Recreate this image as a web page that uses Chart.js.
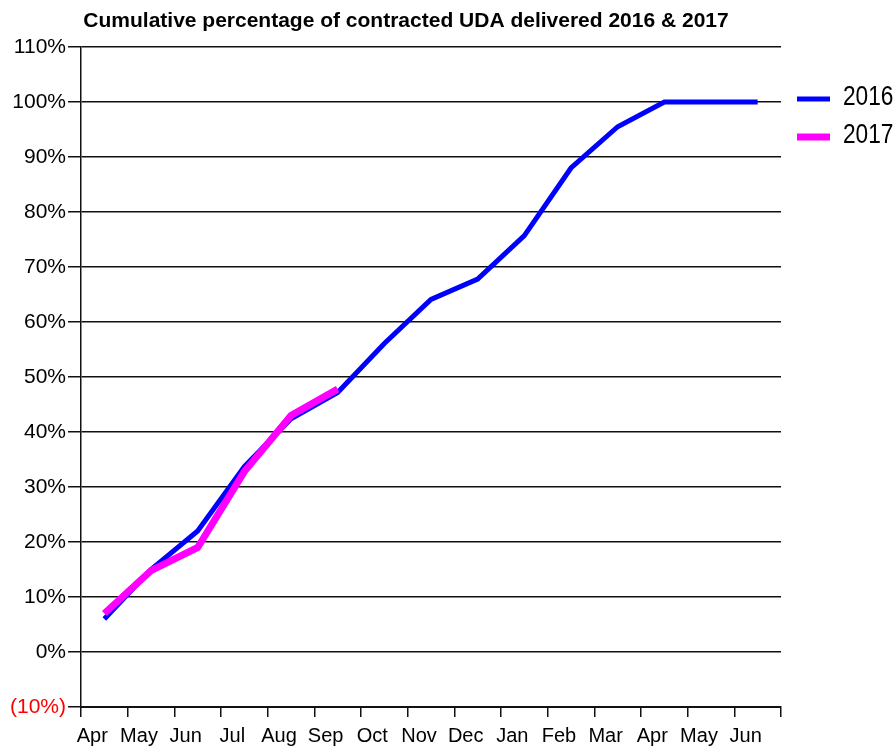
<!DOCTYPE html>

<html lang="en" xmlns="http://www.w3.org/1999/xhtml">

<head>
    <meta charset="utf-8" />
    <title>Cumulative percentage of contracted UDA delivered</title>
    <script src="https://cdn.jsdelivr.net/npm/chart.js"></script>
    <style>
        body { margin: 0; background: #fff; overflow: hidden; }
    </style>
    <script type="text/javascript">
        // Months of the contract year (Apr to Jun of the following year)
        var months = ['Apr', 'May', 'Jun', 'Jul', 'Aug', 'Sep', 'Oct', 'Nov', 'Dec', 'Jan', 'Feb', 'Mar', 'Apr', 'May', 'Jun'];
        // Cumulative % of contracted UDA delivered
        var delivered2016 = [6, 15, 22, 33.7, 42.4, 47.2, 56.1, 64.1, 67.8, 75.7, 88, 95.5, 100, 100, 100];
        var delivered2017 = [7, 14.8, 19, 32.8, 43, 47.8];
        var yTicks = [-10, 0, 10, 20, 30, 40, 50, 60, 70, 80, 90, 100, 110];

        var titleText = 'Cumulative percentage of contracted UDA delivered 2016 & 2017';
        var xFont = { family: '"Liberation Sans", Arial, sans-serif', size: 20 };
        var yFont = { family: '"Liberation Sans", Arial, sans-serif', size: 21 };

        document.addEventListener('DOMContentLoaded', function () {

            // title sits over the plot, left of centre
            var titlePlugin = {
                id: 'plotTitle',
                afterDraw: function (chart) {
                    var ctx = chart.ctx;
                    ctx.save();
                    ctx.font = 'bold 21px "Liberation Sans", Arial, sans-serif';
                    ctx.fillStyle = '#000';
                    ctx.textAlign = 'center';
                    ctx.textBaseline = 'alphabetic';
                    ctx.fillText(titleText, 406, 27);
                    ctx.restore();
                }
            };

            // line-sample legend to the right of the plot
            var sideLegend = {
                id: 'sideLegend',
                afterDraw: function (chart) {
                    var ctx = chart.ctx;
                    var x0 = chart.chartArea.right + 16;
                    var rows = [{ ds: chart.data.datasets[0], y: 99 }, { ds: chart.data.datasets[1], y: 137 }];
                    ctx.save();
                    rows.forEach(function (r) {
                        ctx.beginPath();
                        ctx.lineCap = 'butt';
                        ctx.strokeStyle = r.ds.borderColor;
                        ctx.lineWidth = r.ds.borderWidth;
                        ctx.moveTo(x0, r.y);
                        ctx.lineTo(x0 + 33, r.y);
                        ctx.stroke();
                        // tall, narrow label text
                        ctx.save();
                        ctx.translate(x0 + 46, r.y + 6);
                        ctx.scale(0.84, 1);
                        ctx.font = '27px "Liberation Sans", Arial, sans-serif';
                        ctx.fillStyle = '#000';
                        ctx.textAlign = 'left';
                        ctx.textBaseline = 'alphabetic';
                        ctx.fillText(r.ds.label, 0, 0);
                        ctx.restore();
                    });
                    ctx.restore();
                }
            };

            var chart = new Chart(document.getElementById('chart'), {
                type: 'line',
                data: {
                    labels: months,
                    datasets: [
                        {
                            label: '2016',
                            data: delivered2016,
                            borderColor: '#0000ff',
                            borderWidth: 5,
                            tension: 0,
                            pointRadius: 0,
                            borderJoinStyle: 'miter',
                            borderCapStyle: 'butt',
                            fill: false,
                            order: 1
                        },
                        {
                            label: '2017',
                            data: delivered2017,
                            borderColor: '#ff00ff',
                            borderWidth: 7,
                            tension: 0,
                            pointRadius: 0,
                            borderJoinStyle: 'miter',
                            borderCapStyle: 'butt',
                            fill: false,
                            order: 0
                        }
                    ]
                },
                options: {
                    responsive: false,
                    animation: false,
                    layout: { padding: { top: 47, right: 113, bottom: 0, left: 0 } },
                    plugins: {
                        legend: { display: false },
                        title: { display: false },
                        tooltip: { enabled: false }
                    },
                    scales: {
                        x: {
                            type: 'category',
                            offset: true,
                            afterFit: function (s) { s.height = 39; },
                            grid: {
                                offset: true,
                                drawOnChartArea: false,
                                drawTicks: true,
                                tickLength: 10,
                                color: '#111',
                                lineWidth: 1.5
                            },
                            border: { display: true, color: '#111', width: 2 },
                            ticks: {
                                color: '#000',
                                font: xFont,
                                padding: 7,
                                labelOffset: -12,
                                maxRotation: 0,
                                autoSkip: false
                            }
                        },
                        y: {
                            min: yTicks[0],
                            max: yTicks[yTicks.length - 1],
                            afterFit: function (s) { s.width = 81; },
                            afterBuildTicks: function (s) {
                                s.ticks = yTicks.map(function (v) { return { value: v }; });
                            },
                            grid: {
                                color: '#111',
                                lineWidth: 1.5,
                                drawTicks: true,
                                tickLength: 13
                            },
                            border: { display: true, color: '#111', width: 1.5 },
                            ticks: {
                                font: yFont,
                                padding: 2,
                                color: function (c) { return c.tick.value < 0 ? '#ff0000' : '#000'; },
                                callback: function (v) {
                                    return v < 0 ? '(' + (-v) + '%)' : v + '%';
                                }
                            }
                        }
                    }
                },
                plugins: [titlePlugin, sideLegend]
            });
        });
    </script>

</head>

<body>
    <canvas id="chart" width="894" height="746"></canvas>
</body>

</html>
